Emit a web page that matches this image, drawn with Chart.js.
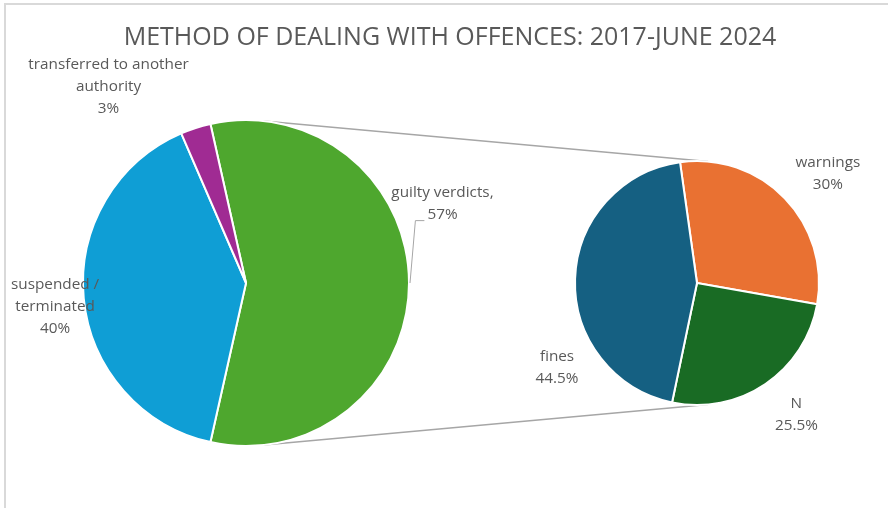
<!DOCTYPE html>
<html>
<head>
<meta charset="utf-8">
<script src="https://cdn.jsdelivr.net/npm/chart.js@4.4.1/dist/chart.umd.min.js"></script>
<style>
  html, body { margin: 0; padding: 0; background: #fff; overflow: hidden; }
  #wrap { position: relative; width: 888px; height: 508px; }
  #frame { position: absolute; left: 4px; top: 3px; width: 900px; height: 520px; border: 2px solid #d9d9d9; box-sizing: border-box; }
  canvas { position: absolute; left: 0; top: 0; }
</style>
</head>
<body>
<div id="wrap">
  <div id="frame"></div>
  <canvas id="mainPie" width="888" height="508"></canvas>
  <canvas id="subPie" width="888" height="508"></canvas>
</div>
<script>
const chartTitle = 'METHOD OF DEALING WITH OFFENCES: 2017-JUNE 2024';

// first pie: all cases
const mainLabels = [['guilty verdicts,'], ['suspended /', 'terminated'], ['transferred to another', 'authority']];
const mainValues = [57, 40, 3];
const mainColors = ['#4EA72E', '#0F9ED5', '#A02B93'];

// second pie: breakdown of guilty verdicts
const subLabels = [['warnings'], ['N'], ['fines']];
const subValues = [30, 25.5, 44.5];
const subColors = ['#E97132', '#196B24', '#156082'];

// label placement: [angle shift in degrees, distance as multiple of radius]
const mainPlace = [[-22, 1.30], [-1.6, 1.18], [-17, 1.47]];
const subPlace = [[4, 1.40], [-3, 1.35], [-33, 1.34]];

const textGray = '#595959';
const labelFont = '15.3px "Open Sans"';
const lineH = 22;

function drawLabels(chart, labels, values, place, leaderIdx) {
  const ctx = chart.ctx;
  const arcs = chart.getDatasetMeta(0).data;
  ctx.save();
  ctx.font = labelFont;
  ctx.fillStyle = textGray;
  ctx.textAlign = 'center';
  ctx.textBaseline = 'middle';
  arcs.forEach((arc, i) => {
    const mid0 = (arc.startAngle + arc.endAngle) / 2;
    const mid = mid0 + place[i][0] * Math.PI / 180;
    const r = arc.outerRadius * place[i][1];
    const cx = arc.x + Math.cos(mid) * r;
    const cy = arc.y + Math.sin(mid) * r;
    const lines = labels[i].concat(values[i] + '%');
    lines.forEach((t, k) => ctx.fillText(t, cx, cy + (k - (lines.length - 1) / 2) * lineH));
    if (i === leaderIdx) {
      // leader line from the slice edge up to the value line
      const last = lines[lines.length - 1];
      const ly = cy + ((lines.length - 1) / 2) * lineH + 6;
      const lx = cx - ctx.measureText(last).width / 2;
      ctx.strokeStyle = '#A6A6A6';
      ctx.lineWidth = 1;
      ctx.beginPath();
      ctx.moveTo(arc.x + Math.cos(mid0) * arc.outerRadius + 1, arc.y + Math.sin(mid0) * arc.outerRadius);
      ctx.lineTo(lx - 12, ly);
      ctx.lineTo(lx - 3, ly);
      ctx.stroke();
    }
  });
  ctx.restore();
}

const baseOptions = {
  responsive: false,
  animation: false,
  events: [],
  plugins: { legend: { display: false }, tooltip: { enabled: false } }
};

const subChart = new Chart(document.getElementById('subPie'), {
  type: 'pie',
  data: {
    labels: subLabels.map(l => l.join(' ')),
    datasets: [{ data: subValues, backgroundColor: subColors, borderColor: '#fff', borderWidth: 2 }]
  },
  options: {
    ...baseOptions,
    rotation: -8,
    radius: 122,
    layout: { padding: { left: 575, right: 69, top: 161, bottom: 103 } }
  },
  plugins: [{
    id: 'subLabels',
    afterDatasetsDraw(chart) { drawLabels(chart, subLabels, subValues, subPlace, -1); }
  }]
});

new Chart(document.getElementById('mainPie'), {
  type: 'pie',
  data: {
    labels: mainLabels.map(l => l.join(' ')),
    datasets: [{ data: mainValues, backgroundColor: mainColors, borderColor: '#fff', borderWidth: 2 }]
  },
  options: {
    ...baseOptions,
    // split slice centred on the right side
    rotation: 90 - mainValues[0] / 100 * 180,
    radius: 163,
    layout: { padding: { left: 83, right: 479, top: 120, bottom: 62 } }
  },
  plugins: [{
    id: 'connectors',
    beforeDatasetsDraw(chart) {
      // outer tangents joining the two pies
      const a = chart.getDatasetMeta(0).data[0];
      const b = subChart.getDatasetMeta(0).data[0];
      const dx = b.x - a.x, dy = b.y - a.y;
      const d = Math.hypot(dx, dy);
      const th = Math.atan2(dy, dx);
      const be = Math.acos((a.outerRadius - b.outerRadius) / d);
      const ctx = chart.ctx;
      ctx.save();
      ctx.strokeStyle = '#A6A6A6';
      ctx.lineWidth = 1.5;
      [th - be, th + be].forEach(ang => {
        ctx.beginPath();
        ctx.moveTo(a.x + Math.cos(ang) * a.outerRadius, a.y + Math.sin(ang) * a.outerRadius);
        ctx.lineTo(b.x + Math.cos(ang) * b.outerRadius, b.y + Math.sin(ang) * b.outerRadius);
        ctx.stroke();
      });
      ctx.restore();
    },
    afterDatasetsDraw(chart) {
      drawLabels(chart, mainLabels, mainValues, mainPlace, 0);
      const ctx = chart.ctx;
      ctx.save();
      ctx.font = '25px "Open Sans"';
      ctx.fillStyle = textGray;
      ctx.textAlign = 'center';
      ctx.textBaseline = 'middle';
      ctx.fillText(chartTitle, chart.width / 2 + 6, 38);
      ctx.restore();
    }
  }]
});
</script>
</body>
</html>
